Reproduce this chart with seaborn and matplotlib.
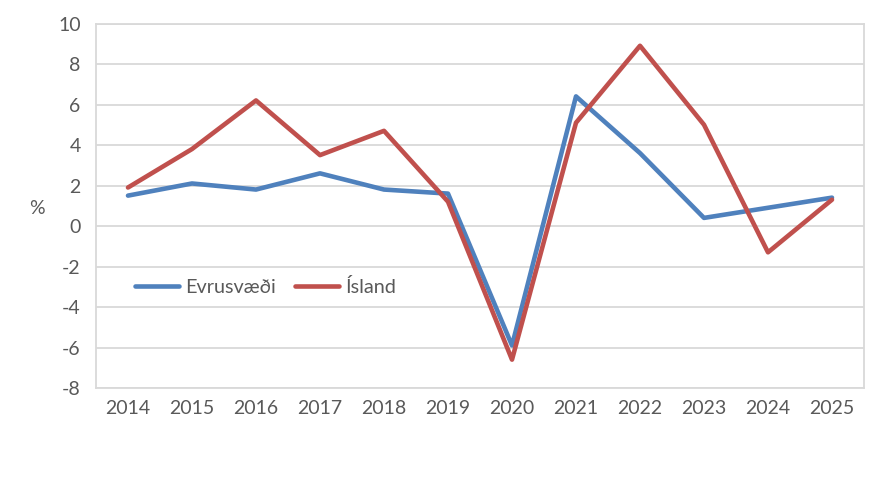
import matplotlib
matplotlib.use("Agg")
import matplotlib.pyplot as plt
import seaborn as sns
import pandas as pd

years = ["2014", "2015", "2016", "2017", "2018", "2019", "2020", "2021", "2022", "2023", "2024", "2025"]
evrusvaedi = [1.5, 2.1, 1.8, 2.6, 1.8, 1.6, -5.9, 6.4, 3.6, 0.4, 0.9, 1.4]
island = [1.9, 3.8, 6.2, 3.5, 4.7, 1.2, -6.6, 5.1, 8.9, 5.0, -1.3, 1.3]
series_names = ["Evrusvæði", "Ísland"]
y_ticks = [-8, -6, -4, -2, 0, 2, 4, 6, 8, 10]

df = pd.DataFrame({
    "year": list(range(len(years))) * 2,
    "value": evrusvaedi + island,
    "series": [series_names[0]] * len(years) + [series_names[1]] * len(years),
})

sns.set_theme(style="white")
plt.rcParams["font.family"] = ["Lato", "DejaVu Sans"]
text_color = "#595959"
grid_color = "#D9D9D9"

fig = plt.figure(figsize=(8.85, 4.94), dpi=100)
ax = fig.add_axes([96 / 885, 1 - 388 / 494, (864 - 96) / 885, (388 - 23.5) / 494])

sns.lineplot(data=df, x="year", y="value", hue="series",
             palette={series_names[0]: "#4F81BD", series_names[1]: "#C0504D"},
             linewidth=3.3, ax=ax, legend=True)

ax.set_xlim(-0.5, len(years) - 0.5)
ax.set_ylim(-8, 10)
ax.set_yticks(y_ticks)
ax.set_yticklabels([str(v) for v in y_ticks])
ax.set_xticks(range(len(years)))
ax.set_xticklabels(years)
ax.grid(axis="y", color=grid_color, linewidth=1.3)
ax.set_axisbelow(True)
for s in ax.spines.values():
    s.set_color(grid_color)
    s.set_linewidth(1.3)
ax.tick_params(axis="both", length=0, labelsize=14, colors=text_color)
ax.tick_params(axis="y", pad=11)
ax.tick_params(axis="x", pad=9)
ax.set_xlabel("")
ax.set_ylabel("")
fig.text(37 / 885, 1 - 208 / 494, "%", fontsize=14, color=text_color, ha="center", va="center")

leg = ax.legend(loc="center left", bbox_to_anchor=(135 / 885, 1 - 287 / 494),
                bbox_transform=fig.transFigure, ncol=2, frameon=False,
                fontsize=14.3, handlelength=2.2, handletextpad=0.3, columnspacing=1.0,
                borderaxespad=0, borderpad=0)
for t in leg.get_texts():
    t.set_color(text_color)

fig.savefig("out.png", dpi=100, facecolor="white")
